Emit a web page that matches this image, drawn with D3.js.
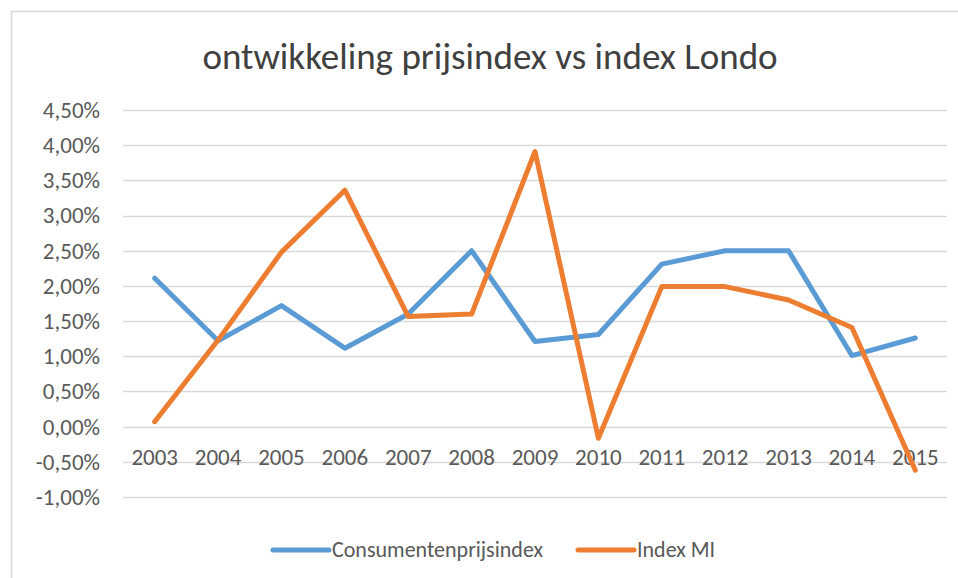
<!DOCTYPE html>
<html>
<head>
<meta charset="utf-8">
<script src="https://cdn.jsdelivr.net/npm/d3@7"></script>
<style>
  body { margin: 0; background: #fff; }
  svg { display: block; font-family: Carlito, Lato, sans-serif; }
</style>
</head>
<body>
<div id="chart-area"></div>
<script>
var years = ['2003', '2004', '2005', '2006', '2007', '2008', '2009', '2010', '2011', '2012', '2013', '2014', '2015'];
var cpi = [2.11, 1.22, 1.72, 1.115, 1.60, 2.50, 1.21, 1.31, 2.31, 2.50, 2.50, 1.01, 1.26];
var indexMI = [0.07, 1.23, 2.48, 3.36, 1.565, 1.60, 3.91, -0.165, 1.99, 1.99, 1.80, 1.41, -0.62];
var yTicks = [-1, -0.5, 0, 0.5, 1, 1.5, 2, 2.5, 3, 3.5, 4, 4.5];
var seriesNames = ['Consumentenprijsindex', 'Index MI'];
var colors = ['#5b9bd5', '#ed7d31'];

var W = 958, H = 578;
var margin = { top: 110, right: 11, bottom: 81, left: 123 },
  width = W - margin.left - margin.right,
  height = H - margin.top - margin.bottom;

var fontFamily = 'Carlito, Lato, sans-serif';

var svg = d3.select('#chart-area')
  .append('svg')
    .attr('width', W)
    .attr('height', H);

// chart area border (only top and left visible in the crop)
svg.append('path')
  .attr('d', 'M11.5,' + H + 'V11.5H' + W)
  .attr('fill', 'none')
  .attr('stroke', '#d9d9d9')
  .attr('stroke-width', 1.5);

svg.append('text')
  .attr('x', 490)
  .attr('y', 69)
  .attr('text-anchor', 'middle')
  .attr('font-size', '37px')
  .attr('fill', '#404040')
  .text('ontwikkeling prijsindex vs index Londo');

var g = svg.append('g')
  .attr('transform', 'translate(' + margin.left + ', ' + margin.top + ')');

var xScale = d3.scaleBand()
  .domain(years)
  .range([0, width]);

var yScale = d3.scaleLinear()
  .domain([-1, 4.5])
  .range([height, 0]);

// gridlines
g.append('g')
  .attr('class', 'grid')
  .selectAll('line')
  .data(yTicks)
  .enter()
  .append('line')
    .attr('x1', 0)
    .attr('x2', width)
    .attr('y1', d => Math.round(yScale(d)) + 0.5)
    .attr('y2', d => Math.round(yScale(d)) + 0.5)
    .attr('stroke', '#d9d9d9')
    .attr('stroke-width', 1.5);

// y axis labels, dutch decimal comma and plain hyphen for negatives
var yAxisCall = d3.axisLeft(yScale)
  .tickValues(yTicks)
  .tickSize(0)
  .tickPadding(23)
  .tickFormat(d => d.toFixed(2).replace('.', ',') + '%');

var yAxisGroup = g.append('g')
  .attr('class', 'y-axis')
  .call(yAxisCall);
yAxisGroup.select('.domain').remove();
yAxisGroup.selectAll('text')
  .attr('font-size', '23px')
  .attr('fill', '#595959')
  .attr('font-family', fontFamily);

// x axis labels sit just below the zero line
var xAxisCall = d3.axisBottom(xScale)
  .tickSize(0)
  .tickPadding(22);

var xAxisGroup = g.append('g')
  .attr('class', 'x-axis')
  .attr('transform', 'translate(0, ' + yScale(0) + ')')
  .call(xAxisCall);
xAxisGroup.select('.domain').remove();
xAxisGroup.selectAll('text')
  .attr('font-size', '23px')
  .attr('fill', '#595959')
  .attr('font-family', fontFamily);

var line = d3.line()
  .x((d, i) => xScale(years[i]) + xScale.bandwidth() / 2)
  .y(d => yScale(d));

[cpi, indexMI].forEach((series, i) => {
  g.append('path')
    .datum(series)
    .attr('d', line)
    .attr('fill', 'none')
    .attr('stroke', colors[i])
    .attr('stroke-width', 5)
    .attr('stroke-linejoin', 'round')
    .attr('stroke-linecap', 'round');
});

// legend
var legendX = [273, 578];
var legend = svg.append('g').attr('class', 'legend');
seriesNames.forEach((name, i) => {
  legend.append('line')
    .attr('x1', legendX[i])
    .attr('x2', legendX[i] + 56)
    .attr('y1', 550)
    .attr('y2', 550)
    .attr('stroke', colors[i])
    .attr('stroke-width', 5)
    .attr('stroke-linecap', 'round');
  legend.append('text')
    .attr('x', legendX[i] + 59)
    .attr('y', 557)
    .attr('font-size', '22px')
    .attr('fill', '#595959')
    .text(name);
});
</script>
</body>
</html>
